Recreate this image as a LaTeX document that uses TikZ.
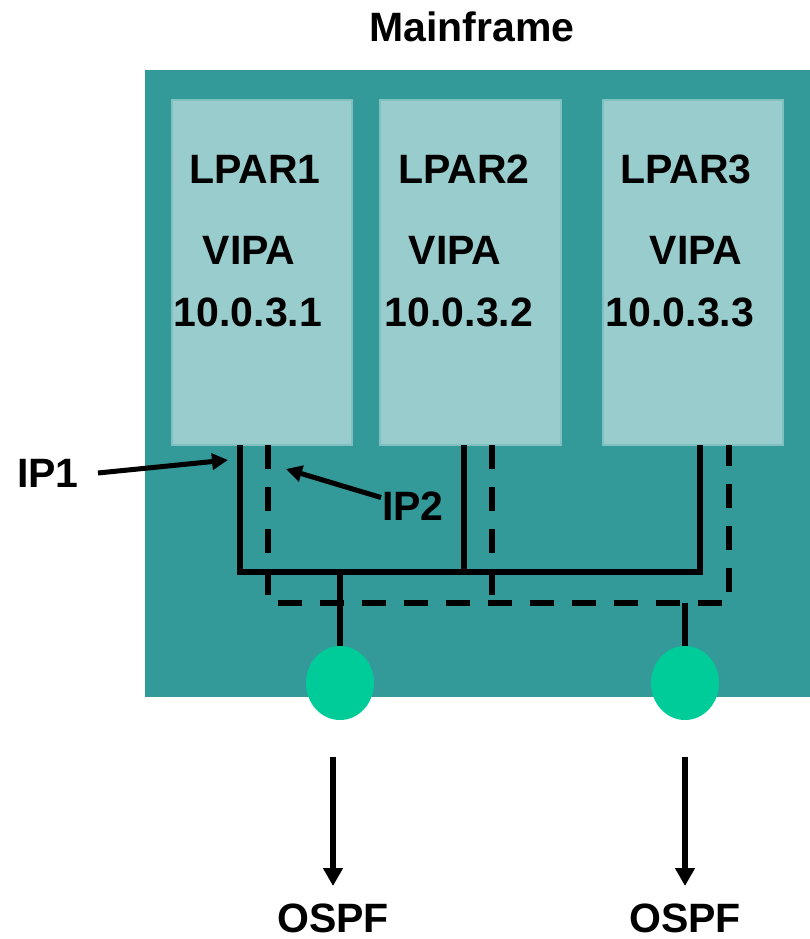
\documentclass[tikz,border=0pt]{standalone}
\usepackage{fontspec}
\setmainfont{Liberation Sans}
\usetikzlibrary{arrows.meta}
\usetikzlibrary{shapes.geometric}
\definecolor{frame}{HTML}{339999}
\definecolor{lpar}{HTML}{99CCCC}
\definecolor{lparline}{HTML}{80C0C0}
\definecolor{ospf}{HTML}{00CC99}

\begin{document}
\begin{tikzpicture}[x=1pt,y=-1pt]
\tikzstyle{every node}=[font=\fontsize{41}{48}\selectfont\bfseries,inner sep=0pt]
\tikzstyle{lparbox}=[draw=lparline,line width=1.5pt,fill=lpar,minimum height=345pt]
\tikzstyle{port}=[ellipse,fill=ospf,minimum width=68pt,minimum height=74pt]
\tikzstyle{link}=[line width=5.5pt]
\tikzstyle{backup}=[line width=5.5pt,dash pattern=on 24pt off 18pt]
\tikzstyle{pointer}=[line width=5pt,-{Triangle[length=16pt,width=16pt]}]
\tikzstyle{uplink}=[line width=5.5pt,-{Triangle[length=18pt,width=19pt]}]
\useasboundingbox (0,0) rectangle (810,939);
\fill[frame] (145,70) rectangle (810,697);
\node (mf) at (472,27) {Mainframe};
% the three partitions
\node[lparbox,minimum width=180pt] (lp1) at (262,272.5) {};
\node[lparbox,minimum width=181pt] (lp2) at (470.5,272.5) {};
\node[lparbox,minimum width=180pt] (lp3) at (693,272.5) {};
\node (n1) at (255,169) {LPAR1};
\node (n2) at (464,169) {LPAR2};
\node (n3) at (686,169) {LPAR3};
\node (v1) at (249,250) {VIPA};
\node (v2) at (455,250) {VIPA};
\node (v3) at (696,250) {VIPA};
\node (a1) at (248,312) {10.0.3.1};
\node (a2) at (459,312) {10.0.3.2};
\node (a3) at (680,312) {10.0.3.3};
% exits
\node[port] (p1) at (340,683) {};
\node[port] (p2) at (685,683) {};
\coordinate (s1) at (240,445);
\coordinate (s2) at (464,445);
\coordinate (s3) at (700,445);
\coordinate (d1) at (268,445);
\coordinate (d2) at (492,445);
\coordinate (d3) at (729,445);
\draw[link] (s1) -- (240,572) -- (700,572) -- (s3);
\draw[link] (s2) -- (464,572);
\draw[link] (340,572) -- (p1.north);
\draw[backup] (d1) -- (268,603) -- (729,603) -- (d3);
\draw[backup] (d2) -- (492,603);
\draw[link] (685,603) -- (p2.north);
% labels
\node (ip1) at (48,473) {IP1};
\node (ip2) at (413,506) {IP2};
\coordinate (t1) at (228,460);
\coordinate (t2) at (286,469);
\draw[pointer] (ip1.east) ++(19pt,0) -- (t1);
\draw[pointer] (ip2.north west) ++(-1pt,-6pt) -- (t2);
\node (o1) at (333,918) {OSPF};
\node (o2) at (685,918) {OSPF};
\coordinate (e1) at (333,757);
\coordinate (e2) at (685,757);
\draw[uplink] (e1) -- (333,886);
\draw[uplink] (e2) -- (685,886);
\end{tikzpicture}
\end{document}
